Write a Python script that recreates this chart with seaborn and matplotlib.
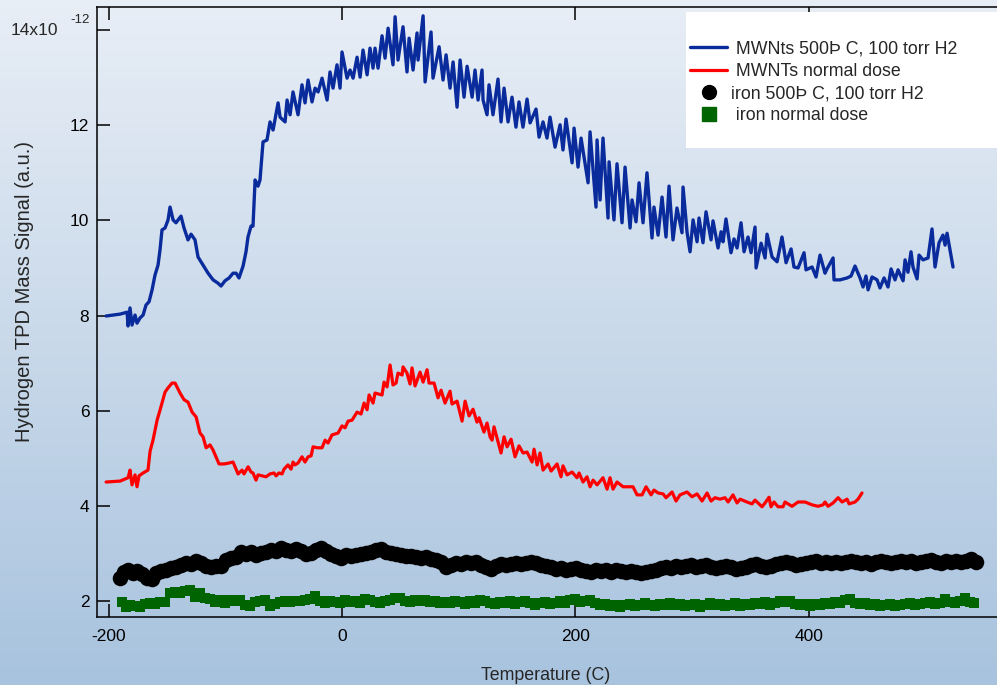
import numpy as np
import pandas as pd
import matplotlib
matplotlib.use("Agg")
import matplotlib.pyplot as plt
import seaborn as sns
from matplotlib.lines import Line2D
from matplotlib.patches import Rectangle
from matplotlib.colors import LinearSegmentedColormap

sns.set_style("ticks")
plt.rcParams["font.family"] = ["Liberation Sans", "DejaVu Sans"]
plt.rcParams["axes.unicode_minus"] = False

# (temperature C, signal x1e-12)
mwnt_500 = [
    (-202.2, 7.99), (-190.2, 8.03), (-184.2, 8.07), (-183.4, 7.78), (-181.7, 8.16), (-180.0, 7.80),
    (-177.4, 8.01), (-175.7, 7.84), (-173.1, 7.95), (-170.5, 8.01), (-168.0, 8.22), (-165.4, 8.29),
    (-162.8, 8.54), (-160.3, 8.85), (-157.7, 9.06), (-156.0, 9.38), (-154.3, 9.80), (-151.7, 9.84),
    (-149.1, 10.01), (-147.4, 10.28), (-144.8, 10.01), (-142.3, 9.95), (-138.0, 10.09), (-135.4, 9.84),
    (-132.0, 9.59), (-129.4, 9.71), (-126.0, 9.59), (-123.4, 9.23), (-119.1, 9.06), (-114.8, 8.89),
    (-110.5, 8.75), (-106.3, 8.68), (-103.7, 8.62), (-100.3, 8.73), (-96.8, 8.79), (-93.4, 8.89),
    (-90.8, 8.89), (-88.3, 8.79), (-84.8, 9.04), (-82.3, 9.34), (-80.6, 9.65), (-78.0, 9.88),
    (-76.3, 9.88), (-74.5, 10.85), (-72.0, 10.72), (-70.3, 10.85), (-67.7, 11.65), (-64.3, 11.69),
    (-61.7, 12.07), (-59.1, 11.90), (-54.8, 12.47), (-53.1, 12.17), (-48.8, 12.07), (-47.1, 12.53),
    (-44.5, 12.22), (-42.0, 12.70), (-37.7, 12.22), (-34.3, 12.85), (-31.7, 12.47), (-29.1, 12.95),
    (-25.7, 12.49), (-23.1, 12.78), (-20.5, 12.70), (-17.1, 12.99), (-12.8, 12.53), (-10.3, 13.12),
    (-7.7, 12.78), (-4.3, 13.27), (-1.7, 12.78), (0.0, 13.54), (4.3, 12.99), (6.9, 13.16),
    (9.5, 12.99), (12.9, 13.43), (15.5, 13.01), (18.0, 13.58), (21.5, 13.06), (24.0, 13.62),
    (26.6, 13.20), (28.3, 13.62), (30.9, 13.20), (34.3, 13.88), (36.9, 13.41), (39.5, 14.04),
    (43.7, 13.27), (45.5, 14.28), (48.0, 13.37), (52.3, 14.07), (55.7, 13.12), (57.5, 13.83),
    (60.9, 13.16), (64.3, 13.94), (65.2, 13.37), (69.5, 14.30), (71.2, 12.91), (76.3, 13.96),
    (78.0, 12.99), (83.2, 13.65), (86.6, 12.95), (89.2, 13.48), (92.6, 12.78), (95.2, 13.33),
    (98.6, 12.38), (101.2, 13.37), (104.6, 12.59), (107.2, 13.24), (111.5, 12.59), (114.0, 13.16),
    (116.6, 12.53), (120.0, 13.16), (120.9, 12.53), (124.3, 12.22), (126.0, 12.85), (129.4, 12.22),
    (133.7, 12.97), (136.3, 12.07), (138.9, 12.78), (142.3, 12.07), (145.7, 12.59), (149.1, 11.96),
    (151.7, 12.49), (155.1, 11.96), (158.6, 12.55), (161.2, 12.05), (166.3, 12.34), (168.9, 11.75),
    (172.3, 12.07), (175.7, 11.73), (178.3, 12.17), (182.6, 11.54), (186.9, 12.01), (189.4, 11.48),
    (192.0, 12.13), (197.2, 11.21), (198.9, 11.94), (202.3, 11.12), (204.9, 11.73), (210.9, 10.79),
    (212.6, 11.86), (217.7, 10.28), (218.6, 11.69), (221.2, 10.43), (223.7, 11.73), (228.0, 10.05),
    (228.9, 11.23), (233.1, 10.01), (235.7, 11.19), (240.0, 9.95), (242.6, 11.12), (246.9, 9.84),
    (248.6, 10.43), (252.0, 9.97), (254.6, 10.79), (258.0, 9.95), (261.4, 11.00), (265.7, 9.63),
    (267.4, 10.28), (270.9, 9.69), (274.3, 10.49), (277.7, 9.65), (280.3, 10.72), (283.7, 9.59),
    (287.1, 10.26), (291.4, 9.74), (292.3, 10.70), (295.7, 9.76), (298.3, 9.34), (300.9, 10.01),
    (304.3, 9.55), (306.0, 10.05), (309.4, 9.53), (312.0, 10.18), (316.3, 9.59), (318.0, 9.99),
    (322.3, 9.42), (324.9, 9.76), (326.6, 9.55), (329.1, 10.03), (333.4, 9.32), (336.0, 9.61),
    (338.6, 9.42), (342.0, 9.95), (344.6, 9.34), (348.0, 9.65), (350.6, 9.32), (354.0, 9.86),
    (354.9, 9.00), (359.2, 9.52), (362.6, 9.21), (364.3, 9.71), (368.6, 9.23), (372.9, 9.13),
    (377.1, 9.65), (380.6, 9.11), (384.9, 9.40), (387.4, 9.02), (390.9, 9.00), (396.0, 9.32),
    (397.7, 8.96), (402.9, 9.02), (406.3, 8.81), (409.7, 9.27), (414.0, 8.89), (415.7, 8.98),
    (420.9, 9.21), (421.7, 8.75), (426.9, 8.75), (432.9, 8.79), (436.3, 8.83), (439.7, 9.04),
    (444.0, 8.79), (446.6, 8.60), (449.1, 8.83), (450.9, 8.54), (454.3, 8.81), (458.6, 8.75),
    (461.1, 8.58), (464.6, 8.79), (468.0, 8.60), (470.6, 8.98), (474.0, 8.75), (476.6, 8.96),
    (480.9, 8.73), (482.6, 9.17), (485.1, 8.91), (487.7, 9.34), (489.4, 9.02), (492.9, 8.77),
    (494.6, 9.27), (498.0, 9.17), (502.3, 9.21), (505.7, 9.82), (508.3, 9.02), (511.7, 9.53),
    (515.1, 9.69), (516.9, 9.48), (518.6, 9.73), (523.7, 9.02),
]

mwnt_normal = [
    (-202.2, 4.50), (-190.2, 4.52), (-183.4, 4.59), (-181.7, 4.75), (-180.0, 4.44), (-177.4, 4.65),
    (-175.7, 4.40), (-174.0, 4.63), (-170.5, 4.69), (-166.3, 4.75), (-164.5, 5.15), (-162.0, 5.38),
    (-158.5, 5.80), (-156.0, 6.01), (-151.7, 6.39), (-149.1, 6.48), (-145.7, 6.58), (-143.1, 6.58),
    (-138.8, 6.37), (-135.4, 6.23), (-132.0, 6.18), (-128.5, 5.97), (-125.1, 5.87), (-121.7, 5.53),
    (-119.1, 5.45), (-116.5, 5.22), (-113.1, 5.28), (-110.5, 5.17), (-105.4, 4.88), (-101.1, 4.88),
    (-96.8, 4.90), (-93.4, 4.92), (-89.1, 4.67), (-85.7, 4.75), (-84.0, 4.67), (-80.5, 4.82),
    (-78.0, 4.71), (-76.3, 4.69), (-73.7, 4.54), (-72.0, 4.65), (-65.1, 4.61), (-61.7, 4.67),
    (-58.3, 4.69), (-56.5, 4.63), (-54.0, 4.69), (-51.4, 4.67), (-49.7, 4.77), (-46.3, 4.86),
    (-43.7, 4.77), (-42.0, 4.92), (-40.3, 4.86), (-37.7, 4.90), (-34.3, 5.03), (-31.7, 4.92),
    (-29.1, 5.03), (-26.5, 5.05), (-24.8, 5.24), (-21.4, 5.22), (-17.1, 5.22), (-14.5, 5.38),
    (-12.0, 5.32), (-8.6, 5.49), (-3.4, 5.53), (0.0, 5.68), (2.6, 5.64), (5.2, 5.78),
    (8.6, 5.80), (12.9, 5.97), (16.3, 5.93), (18.9, 6.16), (21.5, 6.02), (23.2, 6.33),
    (26.6, 6.16), (28.3, 6.37), (34.3, 6.33), (36.0, 6.60), (38.6, 6.50), (41.2, 6.96),
    (43.7, 6.54), (46.3, 6.58), (48.0, 6.79), (51.5, 6.75), (52.3, 6.92), (55.7, 6.79),
    (58.3, 6.56), (60.0, 6.90), (62.6, 6.52), (66.9, 6.81), (69.5, 6.60), (72.9, 6.86),
    (74.6, 6.58), (78.9, 6.58), (82.3, 6.27), (84.9, 6.43), (88.3, 6.16), (92.6, 6.41),
    (94.3, 6.14), (98.6, 6.20), (102.9, 5.78), (105.5, 6.20), (108.9, 5.89), (112.3, 6.03),
    (115.7, 5.76), (117.5, 5.85), (121.7, 5.55), (124.3, 5.74), (126.9, 5.45), (128.6, 5.38),
    (130.3, 5.66), (136.3, 5.11), (138.9, 5.45), (141.5, 5.24), (144.9, 5.40), (148.3, 5.03),
    (151.7, 5.26), (155.2, 5.11), (158.6, 5.13), (162.9, 4.92), (164.6, 5.19), (167.2, 4.86),
    (169.7, 5.11), (172.3, 4.75), (176.6, 4.88), (179.2, 4.73), (184.3, 4.88), (187.7, 4.61),
    (189.4, 4.84), (192.9, 4.65), (197.2, 4.71), (201.4, 4.59), (203.2, 4.69), (206.6, 4.50),
    (210.0, 4.61), (212.6, 4.40), (215.2, 4.54), (218.6, 4.44), (223.7, 4.59), (227.2, 4.35),
    (229.7, 4.59), (232.3, 4.35), (235.7, 4.50), (240.9, 4.40), (249.4, 4.40), (252.9, 4.23),
    (257.2, 4.23), (260.6, 4.40), (264.9, 4.23), (267.4, 4.33), (270.9, 4.27), (275.2, 4.25),
    (277.7, 4.17), (282.9, 4.29), (286.3, 4.10), (289.7, 4.23), (295.7, 4.29), (300.0, 4.19),
    (304.3, 4.25), (308.6, 4.10), (312.9, 4.27), (316.3, 4.10), (319.7, 4.17), (324.0, 4.14),
    (328.3, 4.17), (330.9, 4.08), (335.1, 4.23), (338.6, 4.06), (341.2, 4.14), (347.1, 4.08),
    (351.4, 4.04), (354.0, 4.12), (356.6, 4.06), (360.0, 3.98), (362.6, 4.06), (366.0, 4.18),
    (367.7, 3.98), (370.3, 4.08), (373.7, 3.98), (378.0, 3.98), (379.7, 4.08), (385.7, 3.99),
    (390.9, 4.08), (396.9, 4.08), (402.9, 4.02), (408.0, 3.99), (412.3, 4.02), (414.0, 4.08),
    (416.6, 3.99), (420.9, 4.06), (425.2, 4.17), (428.6, 4.08), (432.9, 4.14), (434.6, 4.04),
    (439.7, 4.08), (442.3, 4.14), (445.7, 4.27),
]

iron_500 = [
    (-190.2, 2.48), (-186.8, 2.61), (-183.4, 2.65), (-179.1, 2.59), (-175.7, 2.63), (-171.4, 2.57),
    (-167.1, 2.48), (-162.8, 2.46), (-159.4, 2.59), (-155.1, 2.63), (-150.8, 2.65), (-146.5, 2.69),
    (-142.3, 2.71), (-138.0, 2.76), (-133.7, 2.80), (-129.4, 2.78), (-125.1, 2.84), (-120.8, 2.80),
    (-116.5, 2.74), (-112.3, 2.71), (-108.0, 2.74), (-103.7, 2.74), (-99.4, 2.86), (-95.1, 2.90),
    (-90.8, 2.92), (-86.5, 3.03), (-82.3, 2.99), (-78.0, 3.03), (-73.7, 2.97), (-69.4, 3.01),
    (-65.1, 3.03), (-60.8, 3.07), (-56.5, 3.05), (-52.3, 3.11), (-48.0, 3.07), (-43.7, 3.05),
    (-39.4, 3.09), (-35.1, 3.05), (-30.8, 2.99), (-26.5, 3.01), (-22.2, 3.07), (-17.9, 3.11),
    (-13.7, 3.05), (-9.4, 2.99), (-5.1, 2.95), (-0.8, 2.90), (3.5, 2.97), (7.7, 2.95),
    (12.0, 2.97), (16.3, 2.99), (20.6, 3.01), (24.9, 3.03), (29.2, 3.07), (33.5, 3.09),
    (37.7, 3.03), (42.0, 3.01), (46.3, 2.99), (50.6, 2.97), (54.9, 2.95), (59.2, 2.95),
    (63.5, 2.92), (67.7, 2.90), (72.0, 2.92), (76.3, 2.88), (80.6, 2.86), (84.9, 2.82),
    (89.2, 2.71), (93.4, 2.76), (97.7, 2.80), (102.0, 2.78), (106.3, 2.82), (110.6, 2.80),
    (114.9, 2.82), (119.2, 2.76), (123.4, 2.71), (127.7, 2.67), (132.0, 2.74), (136.3, 2.78),
    (140.6, 2.76), (144.9, 2.78), (149.2, 2.80), (153.4, 2.78), (157.7, 2.80), (162.0, 2.82),
    (166.3, 2.80), (170.6, 2.76), (174.9, 2.74), (179.2, 2.71), (183.4, 2.67), (187.7, 2.69),
    (192.0, 2.65), (196.3, 2.67), (200.6, 2.69), (204.9, 2.65), (209.2, 2.63), (213.4, 2.61),
    (217.7, 2.65), (222.0, 2.63), (226.3, 2.65), (230.6, 2.61), (234.9, 2.65), (239.2, 2.63),
    (243.4, 2.61), (247.7, 2.63), (252.0, 2.61), (256.3, 2.59), (260.6, 2.61), (264.9, 2.63),
    (269.2, 2.65), (273.4, 2.69), (277.7, 2.71), (282.0, 2.69), (286.3, 2.74), (290.6, 2.71),
    (294.9, 2.74), (299.2, 2.76), (303.4, 2.71), (307.7, 2.74), (312.0, 2.76), (316.3, 2.71),
    (320.6, 2.69), (324.9, 2.71), (329.2, 2.74), (333.4, 2.71), (337.7, 2.67), (342.0, 2.69),
    (346.3, 2.71), (350.6, 2.76), (354.9, 2.78), (359.2, 2.74), (363.4, 2.71), (367.7, 2.74),
    (372.0, 2.78), (376.3, 2.80), (380.6, 2.82), (384.9, 2.80), (389.1, 2.76), (393.4, 2.78),
    (397.7, 2.80), (402.0, 2.82), (406.3, 2.84), (410.6, 2.80), (414.9, 2.82), (419.1, 2.80),
    (423.4, 2.82), (427.7, 2.80), (432.0, 2.82), (436.3, 2.84), (440.6, 2.82), (444.9, 2.80),
    (449.1, 2.82), (453.4, 2.78), (457.7, 2.82), (462.0, 2.84), (466.3, 2.82), (470.6, 2.80),
    (474.9, 2.82), (479.2, 2.84), (483.4, 2.82), (487.7, 2.84), (492.0, 2.80), (496.3, 2.82),
    (500.6, 2.84), (504.9, 2.86), (509.1, 2.82), (513.4, 2.80), (517.7, 2.84), (522.0, 2.82),
    (526.3, 2.84), (530.6, 2.82), (534.9, 2.84), (539.1, 2.88), (543.4, 2.82),
]

iron_normal = [
    (-188.5, 1.98), (-185.1, 1.88), (-181.7, 1.92), (-177.4, 1.90), (-173.1, 1.88), (-168.8, 1.94),
    (-164.5, 1.96), (-160.3, 1.94), (-156.0, 1.98), (-151.7, 1.98), (-147.4, 2.17), (-143.1, 2.19),
    (-138.8, 2.17), (-134.6, 2.21), (-130.3, 2.23), (-126.0, 2.08), (-121.7, 2.17), (-117.4, 2.06),
    (-113.1, 2.04), (-108.8, 1.98), (-104.6, 2.02), (-100.3, 1.96), (-96.0, 2.02), (-91.7, 2.00),
    (-87.4, 2.02), (-83.1, 1.92), (-78.8, 1.90), (-74.6, 1.98), (-70.3, 2.00), (-66.0, 2.02),
    (-61.7, 1.90), (-57.4, 1.94), (-53.1, 1.98), (-48.8, 2.00), (-44.6, 1.98), (-40.3, 2.00),
    (-36.0, 2.00), (-31.7, 2.02), (-27.4, 2.04), (-23.1, 2.11), (-18.8, 2.00), (-14.6, 1.96),
    (-10.3, 2.00), (-6.0, 1.98), (-1.7, 1.96), (2.6, 2.02), (6.9, 1.98), (11.1, 2.00),
    (15.4, 1.96), (19.7, 2.04), (24.0, 2.02), (28.3, 1.98), (32.6, 1.96), (36.9, 2.00),
    (41.1, 2.02), (45.4, 2.06), (49.7, 2.06), (54.0, 2.00), (58.3, 1.98), (62.6, 2.02),
    (66.9, 2.00), (71.1, 2.02), (75.4, 1.98), (79.7, 2.00), (84.0, 1.96), (88.3, 1.98),
    (92.6, 1.96), (96.9, 2.00), (101.1, 1.98), (105.4, 1.94), (109.7, 2.00), (114.0, 1.96),
    (118.3, 2.02), (122.6, 2.00), (126.9, 1.96), (131.1, 1.94), (135.4, 1.98), (139.7, 1.96),
    (144.0, 2.00), (148.3, 1.94), (152.6, 1.98), (156.9, 2.00), (161.1, 1.96), (165.4, 1.92),
    (169.7, 1.96), (174.0, 1.98), (178.3, 1.94), (182.6, 1.96), (186.9, 2.00), (191.1, 1.96),
    (195.4, 2.02), (199.7, 2.04), (204.0, 1.98), (208.3, 2.00), (212.6, 2.02), (216.9, 1.96),
    (221.1, 1.92), (225.4, 1.94), (229.7, 1.90), (234.0, 1.92), (238.3, 1.88), (242.6, 1.92),
    (246.9, 1.94), (251.1, 1.90), (255.4, 1.92), (259.7, 1.96), (264.0, 1.92), (268.3, 1.90),
    (272.6, 1.94), (276.9, 1.92), (281.1, 1.96), (285.4, 1.92), (289.7, 1.94), (294.0, 1.90),
    (298.3, 1.92), (302.6, 1.94), (306.9, 1.88), (311.1, 1.92), (315.4, 1.96), (319.7, 1.92),
    (324.0, 1.94), (328.3, 1.90), (332.6, 1.92), (336.9, 1.96), (341.1, 1.90), (345.4, 1.94),
    (349.7, 1.92), (354.0, 1.96), (358.3, 1.94), (362.6, 1.98), (366.9, 1.92), (371.1, 1.96),
    (375.4, 2.00), (379.7, 1.98), (384.0, 2.00), (388.3, 1.94), (392.6, 1.92), (396.9, 1.94),
    (401.1, 1.90), (405.4, 1.94), (409.7, 1.92), (414.0, 1.96), (418.3, 1.94), (422.6, 1.98),
    (426.9, 1.96), (431.1, 2.02), (435.4, 2.04), (439.7, 1.96), (444.0, 1.94), (448.3, 1.96),
    (452.6, 1.92), (456.9, 1.94), (461.1, 1.90), (465.4, 1.92), (469.7, 1.94), (474.0, 1.90),
    (478.3, 1.92), (482.6, 1.94), (486.9, 1.96), (491.1, 1.92), (495.4, 1.94), (499.7, 1.96),
    (504.0, 1.98), (508.3, 1.94), (512.6, 1.96), (516.9, 2.04), (521.1, 1.98), (525.4, 1.96),
    (529.7, 2.00), (534.0, 2.06), (538.3, 1.98), (541.7, 1.96),
]

labels = [" MWNts 500Þ C, 100 torr H2", " MWNTs normal dose",
          "iron 500Þ C, 100 torr H2", " iron normal dose"]
x_ticks = [-200, 0, 200, 400]
y_ticks = [2, 4, 6, 8, 10, 12, 14]

blue = "#0a2b9c"
red = "#ff0000"
green = "#006400"


def to_df(pts):
    return pd.DataFrame(pts, columns=["temp", "signal"])


fig = plt.figure(figsize=(9.97, 6.85), dpi=100)

# gradient background over the whole figure
bg = fig.add_axes([0, 0, 1, 1], zorder=-1)
cmap = LinearSegmentedColormap.from_list("bg", ["#e8eef6", "#c9d9ea", "#a8c3de"])
bg.imshow(np.linspace(0, 1, 256)[:, None], aspect="auto", cmap=cmap, extent=[0, 1, 0, 1])
bg.set_axis_off()

ax = fig.add_axes([0.0973, 0.0993, 0.9027, 0.8905])
ax.set_facecolor("none")

sns.lineplot(data=to_df(mwnt_500), x="temp", y="signal", sort=False, estimator=None,
             color=blue, lw=2.4, ax=ax)
sns.lineplot(data=to_df(mwnt_normal), x="temp", y="signal", sort=False, estimator=None,
             color=red, lw=2.3, ax=ax)
sns.scatterplot(data=to_df(iron_500), x="temp", y="signal", color="black", marker="o",
                s=125, linewidth=0, ax=ax)
sns.scatterplot(data=to_df(iron_normal), x="temp", y="signal", color=green, marker="s",
                s=50, linewidth=0, ax=ax)

ax.set_xlim(-210, 561.4)
ax.set_ylim(1.663, 14.486)
ax.set_xticks(x_ticks)
ax.set_xticklabels([str(v) for v in x_ticks])
ax.set_yticks(y_ticks)
ax.set_yticklabels([str(v) for v in y_ticks[:-1]] + [""])
ax.set_xlabel("")
ax.set_ylabel("")

for side in ["left", "bottom", "top"]:
    ax.spines[side].set_visible(True)
    ax.spines[side].set_linewidth(1.1)
    ax.spines[side].set_color("black")
ax.spines["right"].set_visible(False)

ax.tick_params(axis="both", direction="in", length=9.4, width=1.1, labelsize=12.5, colors="black")
ax.tick_params(axis="x", top=True, pad=9)
ax.tick_params(axis="y", pad=5.5)

# exponent label at the top tick
ax.text(-0.0433, 14, "14x10", transform=ax.get_yaxis_transform(), ha="right", va="center",
        fontsize=12.5)
ax.text(-0.03, 14.21, "-12", transform=ax.get_yaxis_transform(), ha="left", va="center",
        fontsize=9.5)

fig.text(546 / 997, 1 - 676 / 685, "Temperature (C)", ha="center", va="center", fontsize=12.8)
fig.text(25 / 997, 1 - 292 / 685, "Hydrogen TPD Mass Signal (a.u.)", ha="center", va="center",
         rotation=90, fontsize=14.5)

# legend on a white panel
fig.patches.append(Rectangle((686 / 997, 1 - 148 / 685), 0.32, 136 / 685,
                             transform=fig.transFigure, facecolor="white", edgecolor="none",
                             zorder=2))
handles = [
    Line2D([], [], color=blue, lw=2.4),
    Line2D([], [], color=red, lw=2.3),
    Line2D([], [], color="black", marker="o", ls="", markersize=10),
    Line2D([], [], color=green, marker="s", ls="", markersize=10),
]
leg = fig.legend(handles, labels, loc="upper left", bbox_to_anchor=(690 / 997, 1 - 40.5 / 685),
                 bbox_transform=fig.transFigure, frameon=False, borderpad=0, borderaxespad=0,
                 handlelength=2.1, handletextpad=0.2, labelspacing=0.3, fontsize=12.8)
leg.set_zorder(5)

fig.savefig("out.png", dpi=100)
